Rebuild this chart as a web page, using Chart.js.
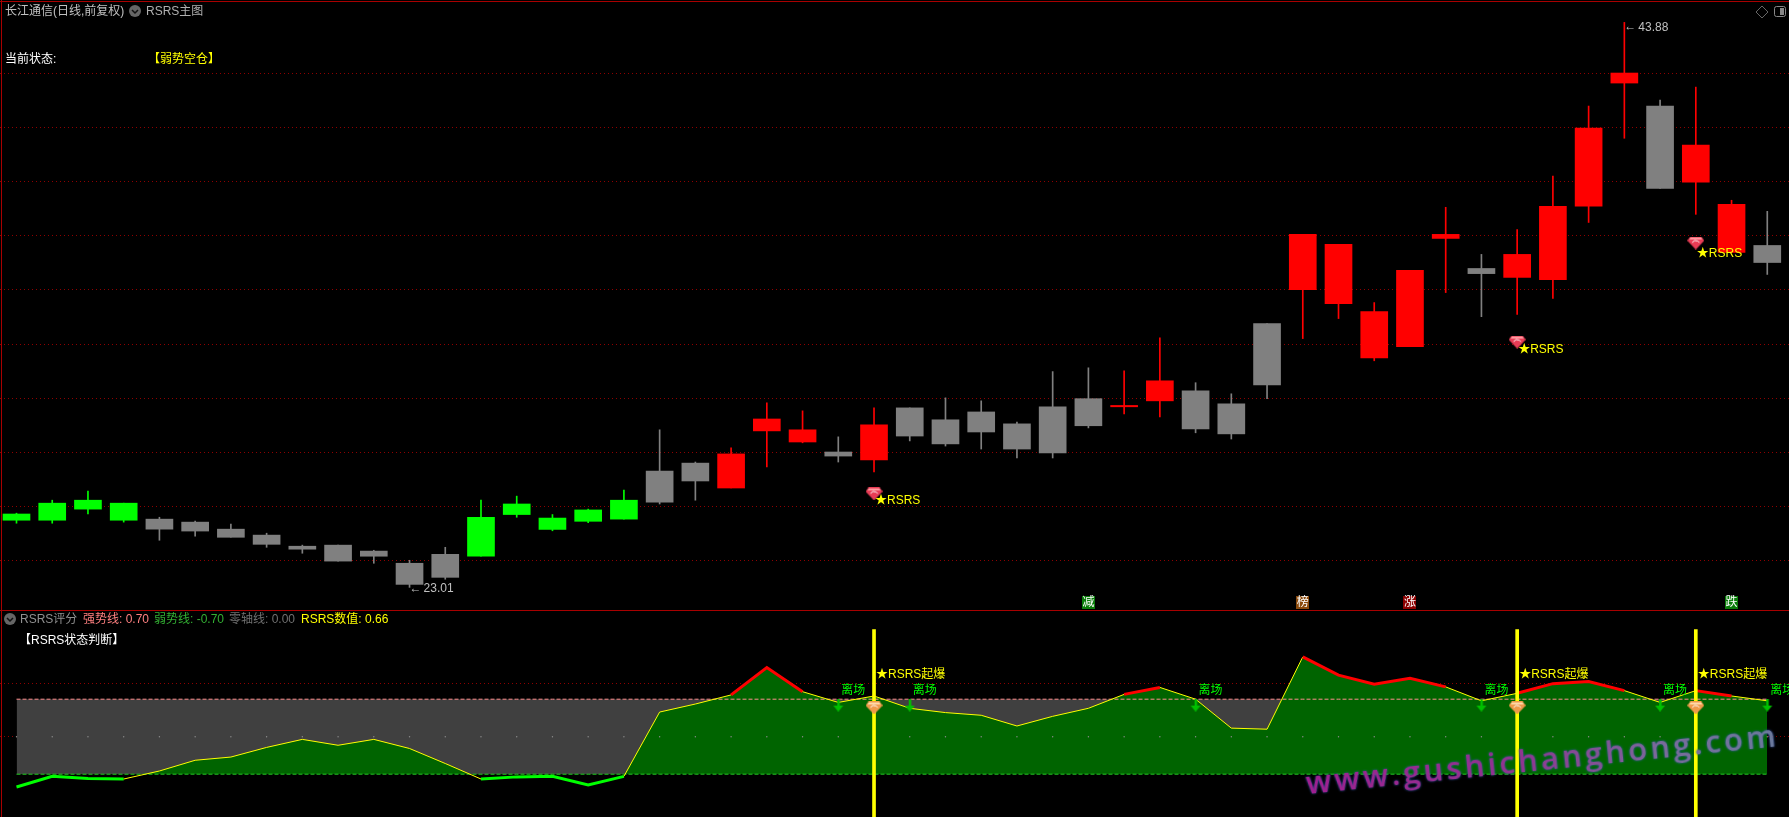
<!DOCTYPE html>
<html>
<head>
<meta charset="utf-8">
<title>RSRS</title>
<script src="https://cdn.jsdelivr.net/npm/chart.js@4/dist/chart.umd.js"></script>
<style>
  html, body { margin: 0; padding: 0; background: #000; overflow: hidden; }
  body { position: relative; width: 1789px; height: 817px; font: 12px "Liberation Sans", "Noto Sans CJK SC", sans-serif; }
  canvas { position: absolute; left: 0; display: block; }
  #price { top: 0; }
  #score { top: 610px; }
  .t { position: absolute; white-space: nowrap; line-height: 14px; }
  .rule { position: absolute; background: #a80000; }
  .ic { position: absolute; }
  #mark {
    position: absolute; left: 1308px; top: 761px; white-space: nowrap;
    font: 600 31px "Open Sans", sans-serif; letter-spacing: 3.3px; line-height: 42px;
    transform-origin: left bottom; transform: rotate(-5.8deg);
    background: linear-gradient(90deg, #a01f90, #8f3590 45%, #7a6a9a 75%, #6a7a9c);
    -webkit-background-clip: text; background-clip: text; color: transparent;
    filter: drop-shadow(0 0 1px #2f55b0);
  }
</style>
</head>
<body>
<canvas id="price" width="1789" height="610"></canvas>
<canvas id="score" width="1789" height="207"></canvas>

<div class="rule" style="left:0;top:1px;width:1789px;height:1px"></div>
<div class="rule" style="left:1px;top:0;width:1px;height:817px"></div>
<div class="rule" style="left:0;top:610px;width:1789px;height:1px"></div>

<span class="t" style="left:5px;top:4px;color:#c0c0c0">长江通信(日线,前复权)</span>
<svg class="ic" style="left:129px;top:5px" width="12" height="12"><circle cx="6" cy="6" r="6" fill="#666"/><path d="M3 5l3 3 3-3" stroke="#111" stroke-width="1.5" fill="none"/></svg>
<span class="t" style="left:146px;top:4px;color:#b0b0b0">RSRS主图</span>
<span class="t" style="left:5px;top:52px;color:#fff">当前状态:</span>
<span class="t" style="left:148px;top:52px;color:#ff0">【弱势空仓】</span>
<svg class="ic" style="left:1755px;top:5px" width="14" height="14"><path d="M7 1l6 6-6 6-6-6z" stroke="#666" fill="none"/></svg>
<svg class="ic" style="left:1774px;top:5px" width="13" height="13"><rect x="0.5" y="1.5" width="11" height="10" rx="2" stroke="#888" fill="none"/><rect x="6" y="3" width="4" height="7" fill="#888"/></svg>

<svg class="ic" style="left:4px;top:613px" width="12" height="12"><circle cx="6" cy="6" r="6" fill="#666"/><path d="M3 5l3 3 3-3" stroke="#111" stroke-width="1.5" fill="none"/></svg>
<span class="t" style="left:20px;top:612px;color:#909090">RSRS评分</span>
<span class="t" style="left:83px;top:612px;color:#ff8080">强势线: 0.70</span>
<span class="t" style="left:154px;top:612px;color:#33b033">弱势线: -0.70</span>
<span class="t" style="left:229px;top:612px;color:#707070">零轴线: 0.00</span>
<span class="t" style="left:301px;top:612px;color:#ff0">RSRS数值: 0.66</span>
<span class="t" style="left:19px;top:633px;color:#fff">【RSRS状态判断】</span>

<div id="mark">www.gushichanghong.com</div>

<script>
// K线: 实体上沿/下沿 + 上下影线，读图估值
const high = [25.75, 26.23, 26.57, 26.12, 25.60, 25.46, 25.35, 25.01, 24.57, 24.57, 24.38, 24.01, 24.49, 26.23, 26.38, 25.70, 25.90, 26.60, 28.83, 27.64, 28.16, 29.83, 29.53, 28.57, 29.64, 29.64, 30.01, 29.90, 29.12, 30.98, 31.12, 31.01, 32.23, 30.57, 30.16, 32.75, 36.05, 35.68, 33.53, 34.72, 37.05, 35.31, 36.23, 38.20, 40.79, 43.88, 41.01, 41.49, 37.31, 36.90];
const bodyTop = [25.72, 26.12, 26.23, 26.12, 25.53, 25.42, 25.16, 24.94, 24.53, 24.57, 24.35, 23.90, 24.23, 25.60, 26.09, 25.57, 25.87, 26.23, 27.31, 27.60, 27.94, 29.23, 28.83, 28.01, 29.01, 29.64, 29.20, 29.49, 29.05, 29.68, 29.98, 29.73, 30.64, 30.27, 29.79, 32.75, 36.05, 35.68, 33.20, 34.72, 36.05, 34.79, 35.31, 37.09, 39.98, 42.01, 40.79, 39.35, 37.16, 35.64];
const bodyBottom = [25.49, 25.49, 25.90, 25.49, 25.16, 25.09, 24.86, 24.60, 24.42, 23.98, 24.16, 23.12, 23.38, 24.16, 25.70, 25.15, 25.45, 25.53, 26.16, 26.94, 26.68, 28.79, 28.38, 27.86, 27.72, 28.60, 28.31, 28.75, 28.12, 27.98, 28.98, 29.68, 29.90, 28.86, 28.68, 30.49, 34.01, 33.49, 31.49, 31.90, 35.90, 34.60, 34.46, 34.38, 37.09, 41.64, 37.75, 37.98, 35.38, 35.01];
const low = [25.38, 25.38, 25.72, 25.42, 24.75, 24.90, 24.86, 24.49, 24.27, 23.98, 23.90, 23.01, 23.31, 24.16, 25.60, 25.10, 25.40, 25.53, 26.09, 26.23, 26.68, 27.46, 28.35, 27.64, 27.27, 28.42, 28.23, 28.12, 27.79, 27.79, 28.90, 29.42, 29.31, 28.72, 28.49, 29.98, 32.20, 32.94, 31.38, 31.90, 33.90, 33.01, 33.09, 33.68, 36.49, 39.60, 37.75, 36.79, 35.38, 34.57];
const candleKind = ['g','g','g','g','n','n','n','n','n','n','n','n','n','g','g','g','g','g','n','n','r','r','r','n','r','n','n','n','n','n','n','r','r','n','n','n','r','r','r','r','r','n','r','r','r','r','n','r','r','n'];
const priceTicks = [42, 40, 38, 36, 34, 32, 30, 28, 26, 24];

// 副图 RSRS 数值
const rsrs = [-0.94, -0.74, -0.78, -0.79, -0.64, -0.44, -0.38, -0.20, -0.05, -0.16, -0.05, -0.22, -0.50, -0.79, -0.75, -0.74, -0.90, -0.74, 0.46, 0.61, 0.78, 1.29, 0.84, 0.64, 0.76, 0.53, 0.45, 0.40, 0.20, 0.38, 0.53, 0.79, 0.92, 0.70, 0.16, 0.14, 1.49, 1.15, 0.98, 1.09, 0.93, 0.67, 0.81, 0.99, 1.03, 0.86, 0.64, 0.86, 0.76, 0.67];
const strongLine = 0.7;
const weakLine = -0.7;
const scoreTicks = [1, 0];

// 信号
const signalIdx = [24, 42, 47];
const gemPrice = [26.46, 32.07, 35.73];
const signalLabelPrice = [26.21, 31.78, 35.34];
const exitIdx = [23, 25, 33, 41, 46, 49];
const badgeIdx = [30, 36, 39, 48];
const badgeText = ['减', '榜', '涨', '跌'];
const badgeColor = ['#0a7d0a', '#8a4a0c', '#8b0000', '#0a7d0a'];

const RED = '#ff0000', LIME = '#00ff00', GRAY = '#808080', YELLOW = '#ffff00';
const FONT = '12px "Liberation Sans", "Noto Sans CJK SC", sans-serif';
const GRID = '#8f0000';
const STEP = 35.73;
const xMin = -16.5 / STEP, xMax = (1789 - 16.5) / STEP;
const kindColor = { g: LIME, n: GRAY, r: RED };
const colors = candleKind.map((k) => kindColor[k]);

const hiddenX = { type: 'linear', min: xMin, max: xMax, offset: false, display: true, ticks: { display: false }, grid: { display: false, drawTicks: false }, border: { display: false } };
const yAxis = (min, max, ticks) => ({
  min, max, ticks: { display: false },
  grid: { color: GRID, lineWidth: 1, drawTicks: false }, border: { display: false, dash: [1, 3] },
  afterBuildTicks: (s) => { s.ticks = ticks.map((value) => ({ value })); },
});
const baseOpts = (yMin, yMax, ticks) => ({
  responsive: false, animation: false, events: [],
  layout: { padding: 0, autoPadding: false },
  plugins: { legend: { display: false }, tooltip: { enabled: false } },
  scales: { x: hiddenX, y: yAxis(yMin, yMax, ticks) },
});

function gemIcon(body, light) {
  const c = document.createElement('canvas');
  c.width = 17; c.height = 13;
  const g = c.getContext('2d');
  g.fillStyle = body;
  g.beginPath(); g.moveTo(3, 0); g.lineTo(14, 0); g.lineTo(17, 4); g.lineTo(8.5, 13); g.lineTo(0, 4); g.closePath(); g.fill();
  g.fillStyle = light;
  g.beginPath(); g.moveTo(3, 1); g.lineTo(14, 1); g.lineTo(15, 3); g.lineTo(2, 3); g.closePath(); g.fill();
  g.strokeStyle = '#fff'; g.lineWidth = 1;
  g.beginPath(); g.arc(8.5, 8, 4, Math.PI * 1.15, Math.PI * 1.85); g.stroke();
  return c;
}
function arrowIcon() {
  const c = document.createElement('canvas');
  c.width = 12; c.height = 13;
  const g = c.getContext('2d');
  g.fillStyle = '#00c000';
  g.fillRect(5, 0, 2.5, 8);
  g.beginPath(); g.moveTo(1, 7); g.lineTo(11, 7); g.lineTo(6, 13); g.closePath(); g.fill();
  return c;
}

// 价格图上的文字标注
const priceLabels = {
  id: 'priceLabels',
  afterDatasetsDraw(chart) {
    const { ctx, scales: { x, y } } = chart;
    ctx.save();
    ctx.font = FONT; ctx.textBaseline = 'middle'; ctx.textAlign = 'left';
    ctx.fillStyle = '#c0c0c0';
    const top = high.indexOf(Math.max(...high));
    const bottom = low.indexOf(Math.min(...low));
    ctx.fillText('←', x.getPixelForValue(top), y.getPixelForValue(high[top]) + 4);
    ctx.fillText(high[top].toFixed(2), x.getPixelForValue(top) + 14, y.getPixelForValue(high[top]) + 5);
    ctx.fillText('←', x.getPixelForValue(bottom), y.getPixelForValue(low[bottom]) + 1);
    ctx.fillText(low[bottom].toFixed(2), x.getPixelForValue(bottom) + 14, y.getPixelForValue(low[bottom]) + 1);
    ctx.fillStyle = YELLOW;
    signalIdx.forEach((i, n) => ctx.fillText('★RSRS', x.getPixelForValue(i) + 1, y.getPixelForValue(signalLabelPrice[n])));
    ctx.textAlign = 'center';
    badgeIdx.forEach((i, n) => {
      const px = x.getPixelForValue(i);
      ctx.fillStyle = badgeColor[n];
      ctx.fillRect(Math.round(px - 6.5), 596, 13, 13);
      ctx.fillStyle = '#fff';
      ctx.fillText(badgeText[n], px, 603);
    });
    ctx.restore();
  },
};

new Chart(document.getElementById('price'), {
  type: 'bar',
  data: {
    datasets: [
      { type: 'line', data: signalIdx.map((i, n) => ({ x: i, y: gemPrice[n] })), showLine: false, pointStyle: gemIcon('#e83c55', '#ff9aa0'), order: 0 },
      { data: bodyTop.map((v, i) => ({ x: i, y: [bodyBottom[i], v] })), backgroundColor: colors, barThickness: 27, grouped: false, order: 1 },
      { data: high.map((v, i) => ({ x: i, y: [low[i], v] })), backgroundColor: colors, barThickness: 1, grouped: false, order: 2 },
    ],
  },
  options: baseOpts(42 - (610 - 73.3) / 27.07, 42 + 73.3 / 27.07, priceTicks),
  plugins: [priceLabels],
});

// 副图文字
const scoreLabels = {
  id: 'scoreLabels',
  afterDatasetsDraw(chart) {
    const { ctx, scales: { x, y } } = chart;
    ctx.save();
    ctx.font = FONT; ctx.textBaseline = 'middle'; ctx.textAlign = 'left';
    ctx.fillStyle = YELLOW;
    signalIdx.forEach((i) => ctx.fillText('★RSRS起爆', x.getPixelForValue(i) + 2, y.getPixelForValue(1.16)));
    ctx.fillStyle = LIME;
    exitIdx.forEach((i) => ctx.fillText('离场', x.getPixelForValue(i) + 3, y.getPixelForValue(0.86)));
    ctx.restore();
  },
};

const segColor = (c) => {
  const a = c.p0.parsed.y, b = c.p1.parsed.y;
  if (a > 0.75 && b > 0.75) return RED;
  if (a < weakLine && b < weakLine) return LIME;
  return YELLOW;
};
const lonePeak = (c) => {
  const i = c.dataIndex;
  return rsrs[i] > 0.75 && rsrs[i - 1] <= 0.75 && rsrs[i + 1] <= 0.75;
};

const flat = (v) => rsrs.map((_, i) => ({ x: i, y: v }));
const scorePts = rsrs.map((v, i) => ({ x: i, y: v }));
new Chart(document.getElementById('score'), {
  type: 'line',
  data: {
    datasets: [
      { data: signalIdx.map((i) => ({ x: i, y: 0.536 })), showLine: false, pointStyle: gemIcon('#f09a4a', '#ffd9a8'), order: 0 },
      { data: exitIdx.map((i) => ({ x: i, y: 0.59 })), showLine: false, pointStyle: arrowIcon(), order: 1 },
      { type: 'bar', data: signalIdx.map((i) => ({ x: i, y: [-1.6, 2] })), backgroundColor: YELLOW, barThickness: 3, grouped: false, order: 2 },
      { data: scorePts, borderColor: YELLOW, borderWidth: 1, tension: 0,
        segment: { borderColor: segColor, borderWidth: (c) => (segColor(c) === YELLOW ? 1 : 3) },
        pointRadius: (c) => (lonePeak(c) ? 1.6 : 0), pointBackgroundColor: RED, pointBorderWidth: 0, order: 3 },
      { data: flat(0), showLine: false, pointRadius: 0.7, pointBackgroundColor: '#8c8c8c', pointBorderWidth: 0, order: 4 },
      { data: flat(weakLine), borderColor: '#22cc22', borderWidth: 1, borderDash: [4, 2], pointRadius: 0, order: 5 },
      { data: flat(strongLine), borderColor: '#ff8f8f', borderWidth: 1, borderDash: [4, 2], pointRadius: 0, order: 6 },
      { data: scorePts, borderWidth: 0, pointRadius: 0, fill: { target: { value: weakLine }, above: '#006400', below: 'rgba(0,0,0,0)' }, order: 7 },
      { data: flat(strongLine), borderWidth: 0, pointRadius: 0, fill: { target: { value: weakLine }, above: '#404040' }, order: 8 },
    ],
  },
  options: baseOpts(-80.3 / 53.57, 126.7 / 53.57, scoreTicks),
  plugins: [scoreLabels],
});
</script>
</body>
</html>
